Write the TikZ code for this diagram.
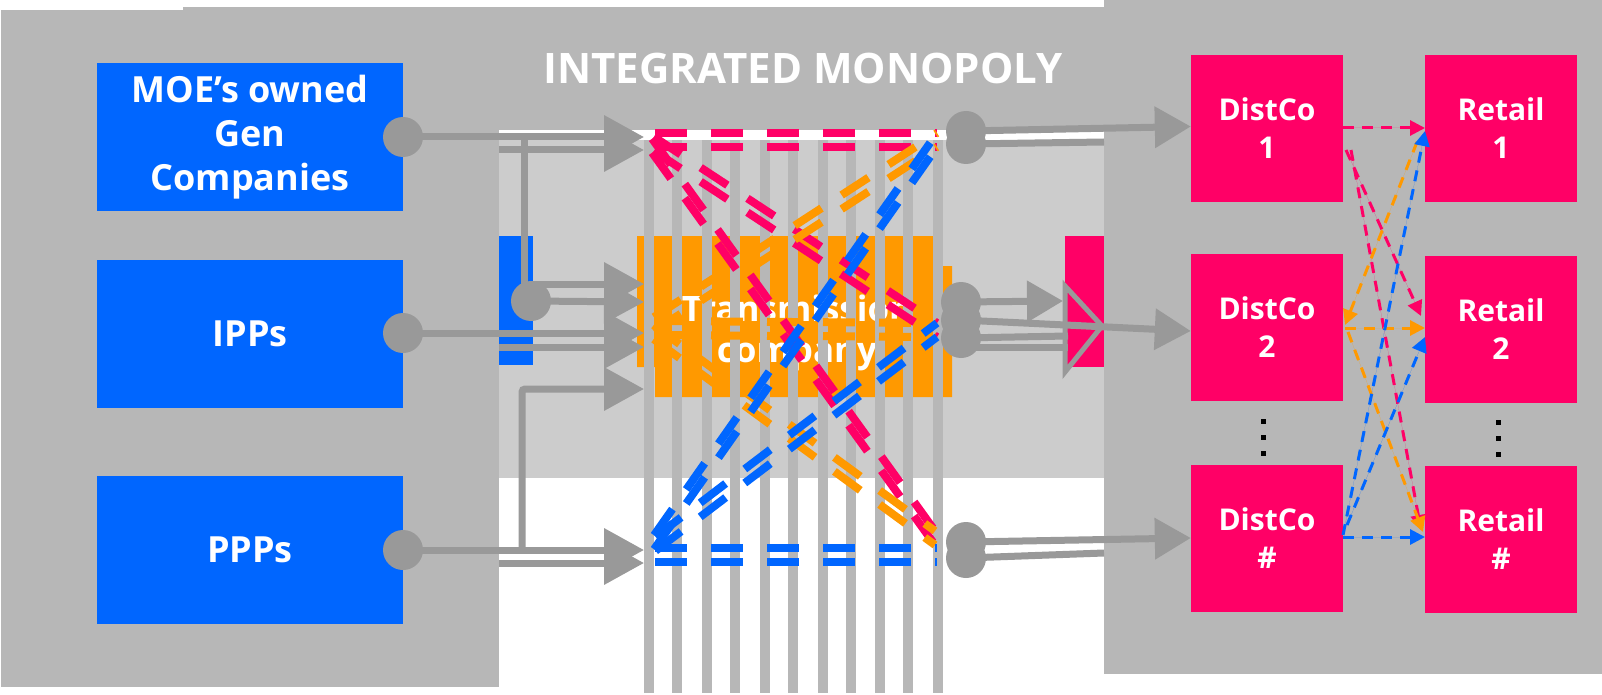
\documentclass[tikz,border=0pt]{standalone}
\usepackage{fontspec}
\setmainfont{Open Sans}
\usetikzlibrary{arrows.meta}
\definecolor{panel}{HTML}{B7B7B7}
\definecolor{lightp}{HTML}{CCCCCC}
\definecolor{dgray}{HTML}{999999}
\definecolor{cblue}{HTML}{0066FF}
\definecolor{cpink}{HTML}{FF0066}
\definecolor{corange}{HTML}{FF9900}
\tikzset{
  genbox/.style={fill=cblue, text=white, inner sep=0pt, minimum width=306pt, minimum height=148pt, align=center, font=\fontsize{36}{44}\selectfont\bfseries},
  pbox/.style={fill=cpink, text=white, inner sep=0pt, minimum width=152pt, minimum height=147pt, align=center, font=\fontsize{30}{38}\selectfont\bfseries},
  gdot/.style={circle, fill=dgray, inner sep=0pt, minimum size=40pt},
  garrow/.style={draw=dgray, line width=7pt, -{Triangle[length=40pt,width=42pt]}},
  rarrow/.style={draw=dgray, line width=7pt, -{Triangle[length=36pt,width=40pt]}},
  gline/.style={draw=dgray, line width=7pt},
  meshline/.style={line width=8pt, dash pattern=on 32pt off 24pt, dash phase=49pt},
  barstrip/.style={fill=panel},
  dcline/.style={line width=3pt, dash pattern=on 11pt off 8pt, -{Triangle[length=15pt,width=15pt]}},
  blackdot/.style={fill=black},
}
\newcommand\meshpair[3]{%
  \draw[meshline,draw=#1] ([yshift=7pt]#2) -- ([yshift=7pt]#3);
  \draw[meshline,draw=#1] ([yshift=-7pt]#2) -- ([yshift=-7pt]#3);}
\begin{document}
\begin{tikzpicture}[x=1pt,y=-1pt]
\useasboundingbox (0,0) rectangle (1602,695);
\fill[white] (0,0) rectangle (1602,695);
% background panels
\fill[panel] (1,10) rectangle (499,687);
\fill[panel] (183,7) rectangle (1104,130);
\fill[panel] (1104,0) rectangle (1602,674);
\fill[lightp] (499,140) rectangle (1104,478);
\fill[cblue] (499,236) rectangle (533,365);
\fill[cpink] (1065,236) rectangle (1104,367);
% title
\node[text=white, inner sep=0pt, font=\fontsize{42}{50}\selectfont\bfseries] (title) at (803,68) {INTEGRATED MONOPOLY};
% transmission company
\fill[corange] (637,236) -- (933,236) -- (933,266) -- (952,266) -- (952,397) -- (655,397) -- (655,367) -- (637,367) -- cycle;
\node[text=white, align=center, inner sep=0pt, font=\fontsize{35}{41}\selectfont\bfseries] (tco) at (797,333) {Transmission\\company};
% vertical bars
\foreach \x in {649,676.5,706.5,735,764.5,792.5,822.5,850.5,880,908,938}
  \fill[barstrip] (\x-5,140) rectangle (\x+5,693);
% mesh endpoints
\coordinate (L1) at (648,140);
\coordinate (L2) at (648,328);
\coordinate (L3) at (648,555);
\coordinate (R1) at (937,140);
\coordinate (R2) at (937,330);
\coordinate (R3) at (937,555);
\coordinate (R3d) at (935,538);
\coordinate (L3d) at (650,548);
% mesh lines
\meshpair{corange}{L2}{R2}
\meshpair{cpink}{L1}{R1}
\meshpair{cpink}{L1}{R2}
\meshpair{cpink}{L1}{R3d}
\meshpair{corange}{L2}{R1}
\meshpair{corange}{L2}{R3d}
\meshpair{cblue}{L3d}{R1}
\meshpair{cblue}{L3d}{R2}
\meshpair{cblue}{L3}{R3}
% generator boxes
\node[genbox] (moe) at (250,137) {MOE’s owned\\Gen\\Companies};
\node[genbox] (ipp) at (250,333.5) {IPPs};
\node[genbox] (ppp) at (250,550) {PPPs};
% left connectors
\coordinate (ga) at (403,137);
\coordinate (gb) at (403,333);
\coordinate (gc) at (403,550);
\coordinate (jn) at (531,301);
\coordinate (t1) at (644,137);
\coordinate (t1b) at (644,150);
\coordinate (s1b) at (499,150);
\coordinate (t2) at (644,284);
\coordinate (s2) at (531,284);
\coordinate (t3) at (644,302);
\coordinate (t4) at (644,333);
\coordinate (t4b) at (644,347);
\coordinate (s4b) at (499,347);
\coordinate (t5) at (644,389);
\coordinate (t6) at (644,550);
\coordinate (t6b) at (644,563);
\coordinate (s6b) at (499,563);
\coordinate (v1) at (524,134);
\coordinate (v1e) at (524,300);
\coordinate (v5) at (522,550);
\draw[garrow] (ga) -- (t1);
\draw[garrow] (s1b) -- (t1b);
\draw[gline] (v1) -- (v1e);
\draw[garrow] (s2) -- (t2);
\draw[garrow] (jn) -- (t3);
\draw[garrow] (gb) -- (t4);
\draw[garrow] (s4b) -- (t4b);
\draw[garrow, rounded corners=3pt] (v5) |- (t5);
\draw[garrow] (gc) -- (t6);
\draw[garrow] (s6b) -- (t6b);
\node[gdot] (gda) at (ga) {};
\node[gdot] (gdb) at (gb) {};
\node[gdot] (gdc) at (gc) {};
\node[gdot] (gdj) at (jn) {};
% distribution and retail boxes
\node[pbox] (d1) at (1267,128.5) {DistCo\\1};
\node[pbox] (d2) at (1267,327) {DistCo\\2};
\node[pbox] (d3) at (1267,538) {DistCo\\\#};
\node[pbox] (r1) at (1501,128.5) {Retail\\1};
\node[pbox] (r2) at (1501,329) {Retail\\2};
\node[pbox] (r3) at (1501,539.5) {Retail\\\#};
\foreach \y in {421,437,453} \fill[blackdot] (1261,\y-2.5) rectangle (1266,\y+2.5);
\foreach \y in {422,438,454} \fill[blackdot] (1496,\y-2.5) rectangle (1501,\y+2.5);
% right connectors
\coordinate (ra) at (966,131);
\coordinate (rb) at (966,144);
\coordinate (rbe) at (1104,142);
\coordinate (rc) at (961,302);
\coordinate (rd) at (961,320);
\coordinate (re) at (961,338);
\coordinate (rf) at (966,542);
\coordinate (rg) at (966,558);
\coordinate (rge) at (1104,553);
\coordinate (hc) at (1063,301);
\coordinate (h1) at (1068,336);
\coordinate (h2) at (1068,347);
\coordinate (hv1) at (1065,286);
\coordinate (hv2) at (1102,326);
\coordinate (hv3) at (1065,372);
\draw[gline] (rb) -- (rbe);
\draw[rarrow] (ra) -- ([yshift=2pt]d1.west);
\draw[rarrow] (rc) -- (hc);
\draw[rarrow] (rd) -- ([yshift=-4pt]d2.west);
\draw[gline] (re) -- (h1);
\draw[gline] (re) |- (h2);
\draw[draw=dgray, line width=5pt, line join=miter] (hv1) -- (hv2) -- (hv3) -- cycle;
\draw[gline] (rg) -- (rge);
\draw[rarrow] (rf) -- (d3.west);
\node[gdot] (rda) at (ra) {};
\node[gdot] (rdb) at (rb) {};
\node[gdot] (rdc) at (rc) {};
\node[gdot] (rdd) at (rd) {};
\node[gdot] (rde) at (re) {};
\node[gdot] (rdf) at (rf) {};
\node[gdot] (rdg) at (rg) {};
% distco to retail
\coordinate (p1s) at (1343,128);
\coordinate (p1e) at (1425,128);
\coordinate (p2s) at (1346,150);
\coordinate (p2e) at (1421,316);
\coordinate (p3s) at (1351,150);
\coordinate (p3e) at (1421,530);
\coordinate (o1s) at (1417,142);
\coordinate (o1e) at (1345,325);
\coordinate (o2s) at (1345,328);
\coordinate (o2e) at (1425,328);
\coordinate (o3s) at (1348,332);
\coordinate (o3e) at (1423,532);
\coordinate (b1s) at (1343,537);
\coordinate (b1e) at (1425,537);
\coordinate (b2s) at (1343,535);
\coordinate (b2e) at (1425,131);
\coordinate (b3s) at (1347,525);
\coordinate (b3e) at (1425,337);
\draw[dcline, draw=cpink, fill=cpink] (p1s) -- (p1e);
\draw[dcline, draw=cpink, fill=cpink] (p2s) -- (p2e);
\draw[dcline, draw=cpink, fill=cpink] (p3s) -- (p3e);
\draw[dcline, draw=corange, fill=corange] (o1s) -- (o1e);
\draw[dcline, draw=corange, fill=corange] (o2s) -- (o2e);
\draw[dcline, draw=corange, fill=corange] (o3s) -- (o3e);
\draw[dcline, draw=cblue, fill=cblue] (b1s) -- (b1e);
\draw[dcline, draw=cblue, fill=cblue] (b2s) -- (b2e);
\draw[dcline, draw=cblue, fill=cblue] (b3s) -- (b3e);
\end{tikzpicture}
\end{document}
